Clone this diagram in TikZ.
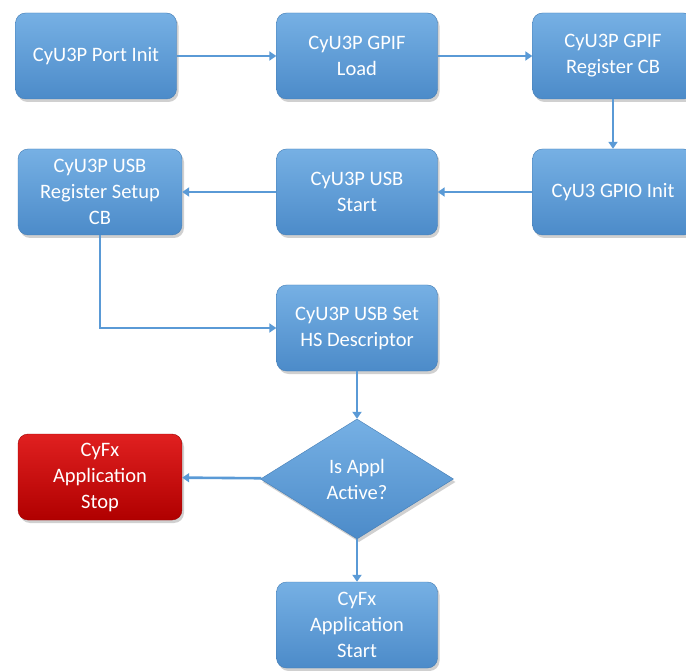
\documentclass[tikz,border=0pt]{standalone}
\usepackage{fontspec}
\setmainfont{Carlito}
\usetikzlibrary{shapes.geometric,arrows.meta,shadows}
\definecolor{boxtop}{HTML}{76B0E4}
\definecolor{boxbot}{HTML}{4C8BC9}
\definecolor{stoptop}{HTML}{E02020}
\definecolor{stopbot}{HTML}{B00000}
\definecolor{flow}{HTML}{5A9AD6}
\tikzset{
  stepbox/.style={rounded corners=10pt, minimum width=161pt, minimum height=86pt,
    inner sep=2pt, text=white, align=center, font=\fontsize{20.5}{26}\selectfont,
    top color=boxtop, bottom color=boxbot, draw=boxbot!90!black, line width=0.4pt,
    drop shadow={shadow xshift=2pt, shadow yshift=-3pt, opacity=0.3, fill=black!60}},
  stopbox/.style={stepbox, top color=stoptop, bottom color=stopbot, draw=stopbot!90!black},
  decision/.style={diamond, aspect=1.6, minimum width=193pt, minimum height=120pt,
    inner sep=0pt, text=white, align=center, font=\fontsize{20.5}{26}\selectfont,
    top color=boxtop, bottom color=boxbot, draw=boxbot!90!black, line width=0.4pt,
    drop shadow={shadow xshift=2pt, shadow yshift=-3pt, opacity=0.3, fill=black!60}},
  link/.style={draw=flow, line width=2.6pt, -{Triangle[width=9pt,length=7pt]}}
}
\begin{document}
\begin{tikzpicture}[x=1pt,y=-1pt]
  \useasboundingbox[fill=white] (0,0) rectangle (686,671);
  % first row
  \node[stepbox] (portinit) at (96,56) {CyU3P Port Init};
  \node[stepbox] (gpifload) at (357,56) {CyU3P GPIF\\Load};
  \node[stepbox] (gpifreg)  at (613,56) {CyU3P GPIF\\Register CB};
  % second row
  \node[stepbox] (gpioinit) at (613,192) {CyU3 GPIO Init};
  \node[stepbox] (usbstart) at (357,192) {CyU3P USB\\Start};
  \node[stepbox, minimum width=164pt] (usbsetup) at (100,192) {CyU3P USB\\Register Setup\\CB};
  % descriptor and decision
  \node[stepbox] (hsdesc) at (357,328) {CyU3P USB Set\\HS Descriptor};
  \node[decision] (active) at (357,479) {Is Appl\\Active?};
  \node[stopbox, minimum width=164pt] (appstop) at (100,477) {CyFx\\Application\\Stop};
  \node[stepbox] (appstart) at (357,625) {CyFx\\Application\\Start};
  % connectors
  \draw[link] (portinit) -- (gpifload);
  \draw[link] (gpifload) -- (gpifreg);
  \draw[link] (gpifreg) -- (gpioinit);
  \draw[link] (gpioinit) -- (usbstart);
  \draw[link] (usbstart) -- (usbsetup);
  \draw[link] (usbsetup.south) |- (hsdesc.west);
  \draw[link] (hsdesc) -- (active);
  \draw[link] (active) -- (appstop);
  \draw[link] (active) -- (appstart);
\end{tikzpicture}
\end{document}
